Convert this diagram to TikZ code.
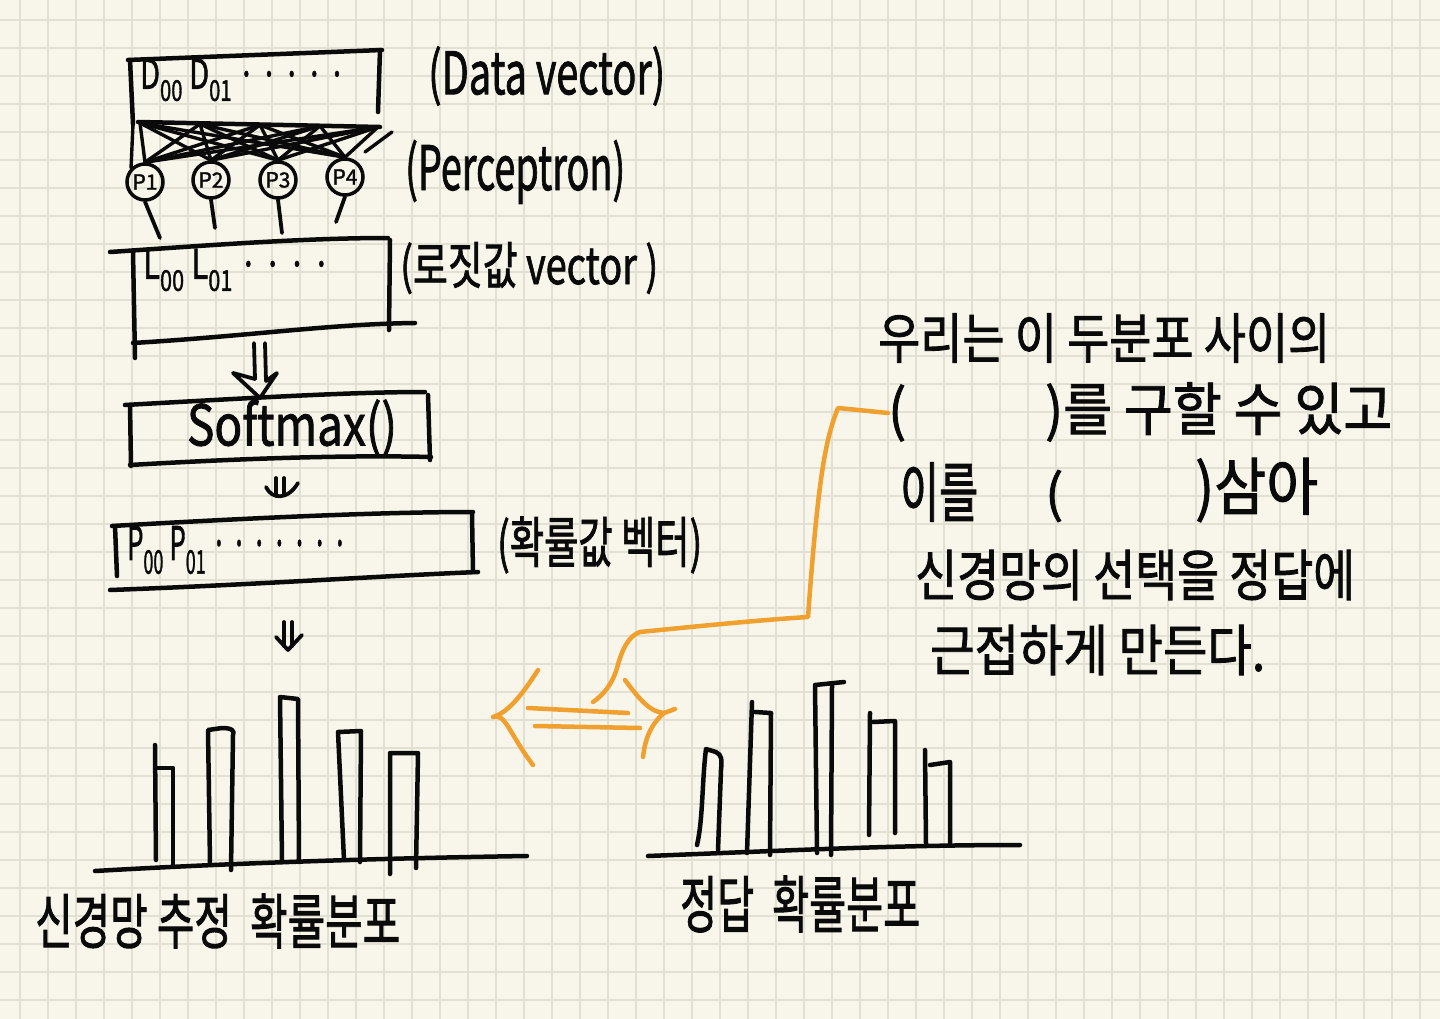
\documentclass[tikz,border=0pt]{standalone}
\usepackage{fontspec}
\usepackage{graphicx}
\setmainfont{Noto Sans CJK KR}
\newfontfamily\hwfam[FakeBold=1.6]{Noto Sans CJK KR}
\usetikzlibrary{arrows.meta}
\definecolor{paper}{HTML}{F8F5EA}
\definecolor{gridc}{HTML}{E2DFD3}
\definecolor{ink}{HTML}{0A0A0A}
\definecolor{orng}{HTML}{F0A02E}
\newcommand\hwfont{\hwfam\fontsize{40}{44}\selectfont}
\newcommand\hwfit[3]{\resizebox{#1pt}{#2pt}{#3}}
\begin{document}
\begin{tikzpicture}[x=1pt,y=-1pt,
  pen/.style={draw=ink,line width=4.5pt,line cap=round,line join=round},
  meshpen/.style={draw=ink,line width=3.4pt,line cap=round},
  orpen/.style={draw=orng,line width=4.5pt,line cap=round,line join=round},
  hw/.style={inner sep=0pt,text=ink,font=\hwfont},
  percep/.style={circle,draw=ink,line width=3.5pt,minimum size=36pt,inner sep=0pt,
    text=ink,font=\hwfam\fontsize{21}{21}\selectfont}]
\fill[paper] (0,0) rectangle (1440,1019);
\useasboundingbox (0,0) rectangle (1440,1019);
% grid paper
\foreach \i in {0,...,50} \draw[gridc,line width=1.8pt] ({20.3+28*\i},0) -- ({20.3+28*\i},1019);
\foreach \j in {0,...,35} \draw[gridc,line width=1.8pt] (0,{20+28*\j}) -- (1440,{20+28*\j});

% ---------- data vector box ----------
\draw[pen] (128,60) -- (382,50);
\draw[pen] (130,60) -- (133,124);
\draw[pen] (380,50) -- (378,112);
\draw[pen] (138,122) -- (380,127);
\node[hw,anchor=west] (dtxt) at (140,80) {\hwfit{205}{30}{D\textsubscript{00} D\textsubscript{01} · · · · ·}};
\node[hw,anchor=west] (dlab) at (428,76) {\hwfit{237}{48}{(Data vector)}};

% ---------- perceptrons ----------
\node[percep] (p1) at (145,182) {P1};
\node[percep] (p2) at (211,180) {P2};
\node[percep] (p3) at (278,180) {P3};
\node[percep] (p4) at (345,177) {P4};
\coordinate (t1) at (140,123);
\coordinate (t2) at (200,124);
\coordinate (t3) at (260,125);
\coordinate (t4) at (320,126);
\coordinate (t5) at (378,127);
\foreach \a in {1,...,5}
  \foreach \b in {1,...,4}
    \draw[meshpen] (t\a) -- (p\b.north);
\draw[meshpen] (133,124) -- (p1.north west);
\coordinate (xs1) at (392,132);
\coordinate (xs2) at (365,152);
\draw[meshpen] (xs1) -- (xs2);
\node[hw,anchor=west] (plab) at (405,172) {\hwfit{220}{50}{(Perceptron)}};
\coordinate (s1) at (160,238);
\coordinate (s2) at (215,228);
\coordinate (s3) at (282,233);
\coordinate (s4) at (336,222);
\foreach \k in {1,...,4} \draw[pen,line width=3.8pt] (p\k.south) -- (s\k);

% ---------- logit box ----------
\draw[pen] (110,252) .. controls (200,246) and (300,238) .. (388,238);
\draw[pen] (133,252) -- (135,358);
\draw[pen] (390,240) -- (389,330);
\draw[pen] (133,343) .. controls (250,336) and (330,324) .. (415,323);
\node[hw,anchor=west] (ltxt) at (143,270) {\hwfit{187}{30}{L\textsubscript{00} L\textsubscript{01} · · · ·}};
\node[hw,anchor=west] (llab) at (400,268) {\hwfit{258}{42}{(로짓값 vector )}};

% hollow arrow logit -> softmax
\coordinate (ha1) at (254,343);
\coordinate (ha2) at (265,343);
\draw[pen,line width=3.8pt] (ha1) -- (255,379);
\draw[pen,line width=3.8pt] (ha2) -- (266,381);
\draw[pen,line width=3.8pt] (255,379) -- (233,373) -- (260,398) -- (277,373) -- (266,381);

% ---------- softmax box ----------
\draw[pen] (125,405) .. controls (250,398) and (350,392) .. (425,392);
\draw[pen] (130,405) -- (131,466);
\draw[pen] (428,395) -- (430,460);
\draw[pen] (130,465) .. controls (250,458) and (350,455) .. (431,457);
\node[hw] (smax) at (292,428) {\hwfit{210}{46}{Softmax()}};

% small double arrow
\coordinate (da1) at (276,478);
\coordinate (da2) at (284,478);
\draw[pen,line width=3.8pt] (da1) -- (276,494);
\draw[pen,line width=3.8pt] (da2) -- (284,494);
\draw[pen,line width=3.8pt] (266,487) .. controls (272,500) and (288,500) .. (298,483);

% ---------- probability box ----------
\draw[pen] (112,526) .. controls (250,518) and (380,512) .. (473,512);
\draw[pen] (115,526) -- (117,576);
\draw[pen] (472,514) -- (473,572);
\draw[pen] (110,590) .. controls (250,585) and (380,576) .. (478,572);
\node[hw,anchor=west] (ptxt) at (127,550) {\hwfit{220}{34}{P\textsubscript{00} P\textsubscript{01} · · · · · · ·}};
\node[hw,anchor=west] (prlab) at (497,545) {\hwfit{205}{46}{(확률값 벡터)}};

% double arrow down to histogram
\coordinate (db1) at (284,622);
\coordinate (db2) at (292,622);
\draw[pen,line width=3.8pt] (db1) -- (284,646);
\draw[pen,line width=3.8pt] (db2) -- (292,646);
\draw[pen,line width=3.8pt] (276,637) -- (288,650) -- (302,635);

% ---------- left histogram ----------
\draw[pen] (95,871) .. controls (250,862) and (400,858) .. (527,856);
\draw[pen] (156,860) -- (155,745);
\draw[pen] (156,768) -- (173,768) -- (173,866);
\draw[pen] (210,863) -- (208,730) -- (222,728) .. controls (232,728) and (235,731) .. (233,735) -- (231,870);
\draw[pen] (282,862) -- (280,697) -- (298,699) -- (299,862);
\draw[pen] (344,860) -- (338,732) -- (361,731) -- (360,862);
\draw[pen] (390,874) -- (390,753) -- (418,753) -- (416,868);
\node[hw,anchor=west] (lhlab) at (35,921) {\hwfit{365}{50}{신경망 추정 \ 확률분포}};

% ---------- right histogram ----------
\draw[pen] (648,856) .. controls (800,850) and (900,845) .. (1020,845);
\draw[pen] (697,845) .. controls (703,820) and (702,780) .. (706,749) -- (716,752) .. controls (722,755) and (722,760) .. (721,770) -- (718,850);
\draw[pen] (747,853) -- (752,702);
\draw[pen] (755,712) -- (771,713) -- (770,855);
\draw[pen] (817,853) -- (815,685) -- (844,682);
\draw[pen] (832,686) -- (831,855);
\draw[pen] (869,835) -- (870,713);
\draw[pen] (873,722) -- (895,721) -- (895,833);
\draw[pen] (926,844) -- (925,750);
\draw[pen] (930,765) -- (950,762) -- (950,845);
\node[hw,anchor=west] (rhlab) at (680,904) {\hwfit{240}{52}{정답 \ 확률분포}};

% ---------- orange double arrow ----------
\coordinate (lh) at (493,717);
\coordinate (rh) at (664,713);
\draw[orpen] (538,670) .. controls (525,690) and (510,712) .. (lh) .. controls (505,712) and (510,735) .. (533,765);
\draw[orpen] (528,708) -- (628,713);
\draw[orpen] (535,726) -- (640,728);
\draw[orpen] (625,680) .. controls (640,700) and (650,712) .. (rh) -- (675,709);
\draw[orpen] (rh) .. controls (650,725) and (645,740) .. (643,757);

% ---------- right text block ----------
\node[hw,anchor=west] (r1) at (878,338) {\hwfit{452}{45}{우리는 이 두분포 사이의}};
\node[hw,anchor=west] (r2a) at (888,413) {\hwfit{18}{46}{(}};
\node[hw,anchor=west] (r2b) at (1045,412) {\hwfit{347}{48}{)를 구할 수 있고}};
\node[hw,anchor=west] (r3a) at (900,492) {\hwfit{78}{54}{이를}};
\node[hw,anchor=west] (r3b) at (1045,496) {\hwfit{18}{42}{(}};
\node[hw,anchor=west] (r3c) at (1195,490) {\hwfit{123}{52}{)삼아}};
\node[hw,anchor=west] (r4) at (915,575) {\hwfit{440}{46}{신경망의 선택을 정답에}};
\node[hw,anchor=west] (r5) at (930,650) {\hwfit{335}{46}{근접하게 만든다.}};

% orange connector from the blank to the arrow
\coordinate (oc) at (593,702);
\draw[orpen] (r2a.west) -- (838,408) .. controls (825,440) and (818,480) .. (808,617)
  .. controls (760,620) and (700,626) .. (640,632) .. controls (628,636) and (622,650) .. (617,668)
  .. controls (612,685) and (603,695) .. (oc);
\end{tikzpicture}
\end{document}
